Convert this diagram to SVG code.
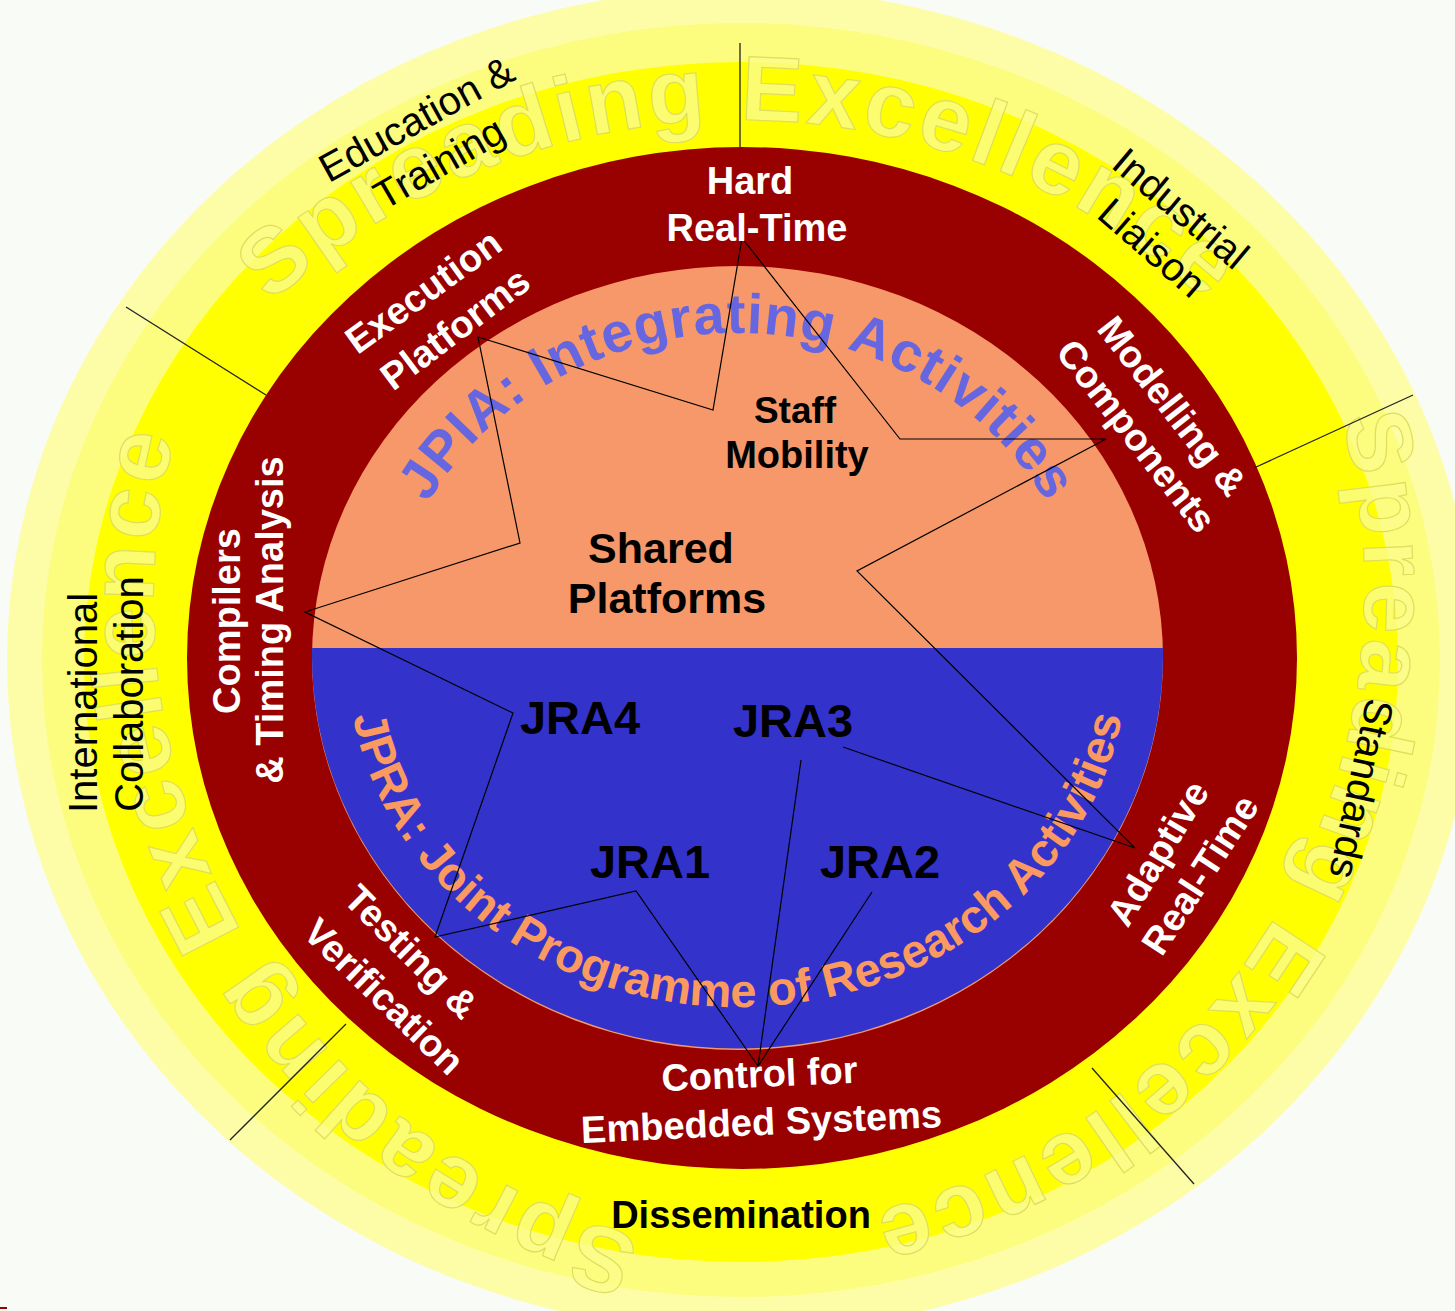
<svg xmlns="http://www.w3.org/2000/svg" width="1455" height="1311" viewBox="0 0 1455 1311">
<defs>
<style>
.w{fill:#fff;font-family:"Liberation Sans",Arial,sans-serif;font-weight:bold;font-size:38px;text-anchor:middle}
.k{fill:#000;font-family:"Liberation Sans",Arial,sans-serif;font-size:40px;text-anchor:middle}
.kb{fill:#000;font-family:"Liberation Sans",Arial,sans-serif;font-weight:bold;text-anchor:middle}
.ghost{font-family:"Liberation Sans",Arial,sans-serif;font-weight:bold;font-size:92px;letter-spacing:4px;fill:#fbfb8c;fill-opacity:0.8;stroke:#dede5c;stroke-width:1.2;text-anchor:middle}
.arc1{font-family:"Liberation Sans",Arial,sans-serif;font-weight:bold;font-size:56px;letter-spacing:1px;fill:#6666e0;text-anchor:middle}
.arc2{font-family:"Liberation Sans",Arial,sans-serif;font-weight:bold;font-size:47px;fill:#fb9a60;text-anchor:middle}
.conn{fill:none;stroke:#000;stroke-width:1.2}
.div{fill:none;stroke:#222;stroke-width:1.3}
</style>
<path id="gp1" d="M48 812 A692 692 0 0 1 1432 812"/>
<path id="gp2" d="M1045 35.7 A640 640 0 1 1 313.6 1080.3"/>
<path id="gp3" d="M1141 1171.8 A658 658 0 1 1 587 -16.3"/>
<path id="jpia" d="M385.5 658 A352 325 0 0 1 1089.5 658"/>
<path id="jpra" d="M347.5 658 A390 349 0 0 0 1127.5 658"/>
</defs>
<rect x="0" y="0" width="1455" height="1311" fill="#f9fbf6"/>
<g id="rings">
<ellipse cx="741" cy="660" rx="734" ry="672" fill="#fdfda8"/>
<ellipse cx="741" cy="660" rx="699" ry="637" fill="#fcfc7e"/>
<ellipse cx="741" cy="662" rx="657" ry="600" fill="#ffff00"/>
</g>
<g id="spreading-excellence">
<text class="ghost"><textPath href="#gp1" startOffset="50%">Spreading Excellence</textPath></text>
<text class="ghost"><textPath href="#gp2" startOffset="1012">Spreading Excellence</textPath></text>
<text class="ghost"><textPath href="#gp3" startOffset="1033">Spreading Excellence</textPath></text>
</g>
<g id="core">
<ellipse cx="742" cy="658" rx="555" ry="511" fill="#990000"/>
<ellipse cx="737.5" cy="658" rx="425.5" ry="392" fill="#f6986a"/>
<path d="M312.1 648 L1162.9 648 A425.5 392 0 1 1 312.1 648 Z" fill="#3333cc"/>
</g>
<g id="jpia-title"><text class="arc1"><textPath href="#jpia" startOffset="50%">JPIA: Integrating Activities</textPath></text></g>
<g id="jpra-title"><text class="arc2"><textPath href="#jpra" startOffset="50%">JPRA: Joint Programme of Research Activities</textPath></text></g>
<g id="connectors">
<polyline class="conn" points="742,238 713,410 478,337 520,543 305,612 513,713 435,937 636,891 758,1066 801,760"/>
<polyline class="conn" points="758,1066 872,892"/>
<polyline class="conn" points="742,238 900,439 1106,439 857,571 1135,848 843,747"/>
<line class="div" x1="740" y1="43" x2="740" y2="147"/>
<line class="div" x1="126" y1="307" x2="266" y2="395"/>
<line class="div" x1="1413" y1="395" x2="1254" y2="468"/>
<line class="div" x1="1092" y1="1068" x2="1194" y2="1184"/>
<line class="div" x1="346" y1="1024" x2="230" y2="1140"/>
</g>
<g id="hard-real-time"><text class="w" x="750" y="194">Hard</text><text class="w" x="757" y="241">Real-Time</text></g>
<g id="execution-platforms"><text class="w" transform="translate(431,302) rotate(-36)">Execution</text><text class="w" transform="translate(463,339) rotate(-37)">Platforms</text></g>
<g id="modelling-components"><text class="w" transform="translate(1162,414) rotate(52)">Modelling &amp;</text><text class="w" transform="translate(1126,444) rotate(52)">Components</text></g>
<g id="compilers"><text class="w" transform="translate(240,621) rotate(-90)">Compilers</text><text class="w" transform="translate(283,620) rotate(-90)">&amp; Timing Analysis</text></g>
<g id="testing-verification"><text class="w" transform="translate(402,961) rotate(45)">Testing &amp;</text><text class="w" transform="translate(375,1006) rotate(44)">Verification</text></g>
<g id="control-embedded"><text class="w" transform="translate(760,1087) rotate(-2.5)">Control for</text><text class="w" transform="translate(762,1135) rotate(-2.5)">Embedded Systems</text></g>
<g id="adaptive-real-time"><text class="w" transform="translate(1169,860) rotate(-59)">Adaptive</text><text class="w" transform="translate(1211,882) rotate(-57)">Real-Time</text></g>
<g id="education-training"><text class="k" transform="translate(423,131) rotate(-29)">Education &amp;</text><text class="k" transform="translate(446,175) rotate(-30)">Training</text></g>
<g id="industrial-liaison"><text class="k" transform="translate(1172,219) rotate(40)">Industrial</text><text class="k" transform="translate(1143,258) rotate(41)">Liaison</text></g>
<g id="international-collaboration"><text class="k" transform="translate(97,703) rotate(-90)">International</text><text class="k" transform="translate(143,694) rotate(-90)">Collaboration</text></g>
<g id="standards"><text class="k" transform="translate(1348,786) rotate(102)">Standards</text></g>
<g id="dissemination"><text class="kb" x="741" y="1228" font-size="38">Dissemination</text></g>
<g id="staff-mobility"><text class="kb" x="795" y="423" font-size="37">Staff</text><text class="kb" x="797" y="468" font-size="38">Mobility</text></g>
<g id="shared-platforms"><text class="kb" x="661" y="563" font-size="43">Shared</text><text class="kb" x="667" y="613" font-size="43">Platforms</text></g>
<g id="jra4"><text class="kb" x="580" y="734" font-size="47">JRA4</text></g>
<g id="jra3"><text class="kb" x="793" y="737" font-size="47">JRA3</text></g>
<g id="jra1"><text class="kb" x="650" y="878" font-size="47">JRA1</text></g>
<g id="jra2"><text class="kb" x="880" y="878" font-size="47">JRA2</text></g>
<rect x="0" y="1307" width="7" height="2" fill="#990000"/>
</svg>
